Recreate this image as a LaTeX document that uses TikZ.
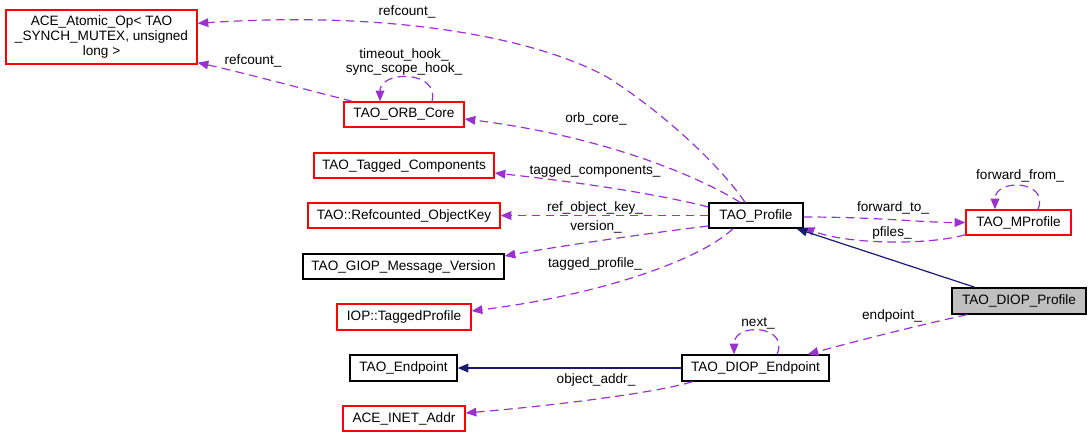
\documentclass[tikz,border=0pt]{standalone}
\usepackage{fontspec}
\setmainfont{Liberation Sans}
\usetikzlibrary{arrows.meta,calc}
\definecolor{edgepurple}{HTML}{9A32CD}
\definecolor{inhnavy}{HTML}{191970}
\definecolor{nodegray}{HTML}{BFBFBF}
\definecolor{nodered}{HTML}{FF0000}
\begin{document}
\begin{tikzpicture}[x=0.75pt,y=-0.75pt,
  box/.style={draw=black, rectangle, inner sep=0pt, line width=1pt, align=center,
     font=\fontsize{10.2}{11}\selectfont},
  redbox/.style={box, draw=nodered},
  wh/.style 2 args={minimum width=#1*0.75pt, minimum height=#2*0.75pt},
  lbl/.style={inner sep=0pt, font=\fontsize{10.2}{11}\selectfont, align=center},
  rel/.style={draw=edgepurple, line width=0.9pt, dash pattern=on 6.5pt off 4pt,
     -{Triangle[length=8pt,width=6.5pt,fill=edgepurple]}},
  inh/.style={draw=inhnavy, line width=0.9pt,
     -{Triangle[length=8pt,width=6.5pt,fill=inhnavy]}}
]
\useasboundingbox (0,0) rectangle (1091,437);

% nodes
\node[redbox, wh={191}{54}] (atomic) at (101.5,37) {ACE\_Atomic\_Op< TAO\\\_SYNCH\_MUTEX, unsigned\\long >};
\node[redbox, wh={120}{25}] (orb) at (404,114.5) {TAO\_ORB\_Core};
\node[redbox, wh={180}{25}] (tagc) at (404,165.5) {TAO\_Tagged\_Components};
\node[redbox, wh={192}{25}] (refkey) at (404,215.5) {TAO::Refcounted\_ObjectKey};
\node[box, wh={201}{25}] (giop) at (403.5,266.5) {TAO\_GIOP\_Message\_Version};
\node[redbox, wh={134}{26}] (iop) at (404,317) {IOP::TaggedProfile};
\node[box, wh={107}{26}] (endp) at (403.5,368) {TAO\_Endpoint};
\node[redbox, wh={122}{25}] (inet) at (404,418.5) {ACE\_INET\_Addr};
\node[box, wh={94}{25}] (prof) at (756,215.5) {TAO\_Profile};
\node[redbox, wh={105}{25}] (mprof) at (1018.5,222.5) {TAO\_MProfile};
\node[box, fill=nodegray, wh={134}{26}] (dprof) at (1019,301) {TAO\_DIOP\_Profile};
\node[box, wh={147}{26}] (dend) at (755.5,368) {TAO\_DIOP\_Endpoint};

% connectors
\draw[rel] ($(prof.north)+(-11,0)$) .. controls (720,165) and (660,110) .. (607,77)
   .. controls (540,40) and (400,10) .. ($(atomic.north east)+(0,14)$);
\draw[rel] ($(orb.north west)+(9,0)$) .. controls (300,88) and (240,72) .. ($(atomic.south east)+(0,-2)$);
\draw[rel] ($(orb.north)+(28,0)$) .. controls (440,70) and (380,70) .. ($(orb.north)+(-24,0)$);
\draw[rel] ($(prof.north)+(-16,0)$) .. controls (705,180) and (610,137) .. ($(orb.east)+(0,4.5)$);
\draw[rel] ($(prof.west)+(0,-8.5)$) .. controls (650,192) and (560,180) .. ($(tagc.east)+(0,7.5)$);
\draw[rel] (prof.west) -- (refkey.east);
\draw[rel] ($(prof.west)+(0,10.5)$) .. controls (650,233) and (560,246) .. ($(giop.east)+(0,-10.5)$);
\draw[rel] ($(prof.south)+(-23,0)$) .. controls (700,260) and (600,295) .. ($(iop.east)+(0,-6)$);
\draw[rel] ($(prof.east)+(0,1.5)$) .. controls (880,217) and (920,222.5) .. (mprof.west);
\draw[rel] ($(mprof.south west)+(0,-1)$) .. controls (930,245) and (850,245) .. ($(prof.south east)+(0,-1)$);
\draw[rel] ($(mprof.north)+(19.5,0)$) .. controls (1050,180) and (995,178) .. ($(mprof.north)+(-23.5,0)$);
\draw[inh] ($(dprof.north)+(-44,0)$) -- ($(prof.south east)+(-7,0)$);
\draw[rel] ($(dprof.south)+(-52,0)$) .. controls (920,325) and (860,340) .. ($(dend.north east)+(-22,0)$);
\draw[rel] ($(dend.north)+(21.5,0)$) .. controls (790,325) and (734,322) .. ($(dend.north)+(-21.5,0)$);
\draw[inh] (dend.west) -- (endp.east);
\draw[rel] ($(dend.south west)+(11,0)$) .. controls (660,392) and (560,405) .. ($(inet.east)+(0,-5.5)$);

% labels
\node[lbl] (l1) at (407,12) {refcount\_};
\node[lbl] (l2) at (253,61) {refcount\_};
\node[lbl] (l3) at (404,62) {timeout\_hook\_\\sync\_scope\_hook\_};
\node[lbl] (l4) at (596,119) {orb\_core\_};
\node[lbl] (l5) at (595,171) {tagged\_components\_};
\node[lbl] (l6) at (595,208) {ref\_object\_key\_};
\node[lbl] (l7) at (596,227) {version\_};
\node[lbl] (l8) at (595,264) {tagged\_profile\_};
\node[lbl] (l9) at (893,208) {forward\_to\_};
\node[lbl] (l10) at (892,233) {pfiles\_};
\node[lbl] (l11) at (1020,176) {forward\_from\_};
\node[lbl] (l12) at (892,316) {endpoint\_};
\node[lbl] (l13) at (758,323) {next\_};
\node[lbl] (l14) at (596,380) {object\_addr\_};
\end{tikzpicture}
\end{document}
